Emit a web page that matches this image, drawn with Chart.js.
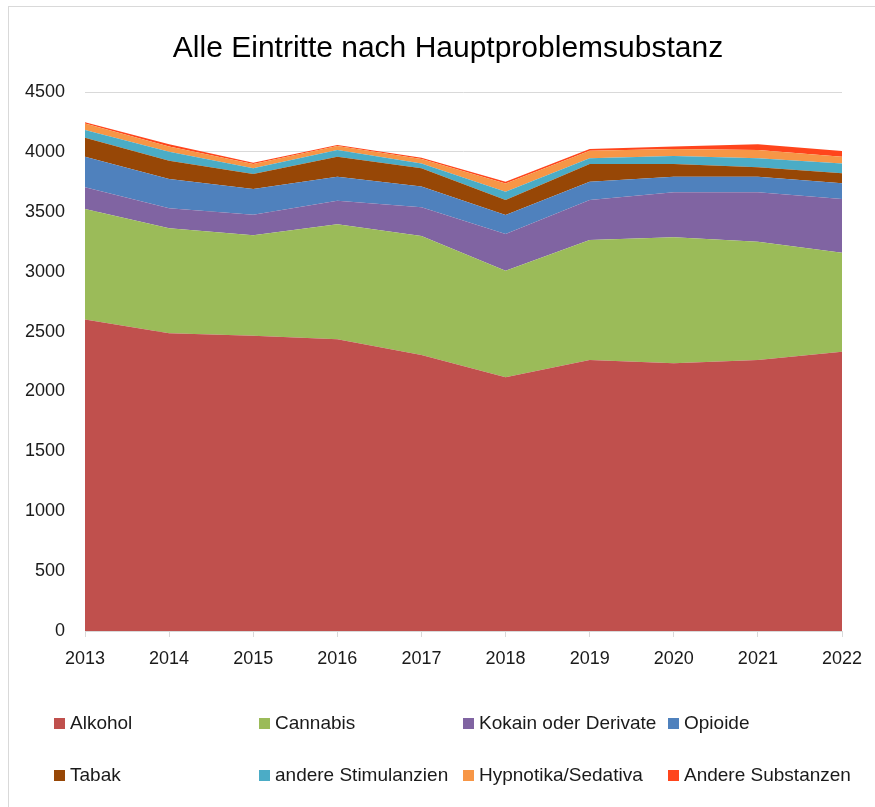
<!DOCTYPE html>
<html>
<head>
<meta charset="utf-8">
<script src="https://cdn.jsdelivr.net/npm/chart.js@4"></script>
<style>
    body { margin: 0; width: 875px; height: 807px; overflow: hidden; background: #fff; font-family: "Liberation Sans", Arial, sans-serif; }
    .frame { position: absolute; left: 8px; top: 6px; width: 900px; height: 900px; border: 1px solid #d9d9d9; }
    #chart { position: absolute; left: 0; top: 0; }
    .title { position: absolute; left: 0; width: 896px; top: 29px; text-align: center; font-size: 30px; line-height: 36px; color: #000; }
    .lg { position: absolute; font-size: 19px; color: #1a1a1a; white-space: nowrap; line-height: 22px; }
    .lg span { display: inline-block; width: 11px; height: 11px; margin-right: 5px; vertical-align: 0px; }
</style>
</head>
<body>
<div class="frame"></div>
<canvas id="chart" width="875" height="807"></canvas>
<div class="title">Alle Eintritte nach Hauptproblemsubstanz</div>
<div id="legend"></div>
<script>
    const years = ['2013', '2014', '2015', '2016', '2017', '2018', '2019', '2020', '2021', '2022'];
    const alkohol = [2600, 2485, 2466, 2435, 2304, 2119, 2262, 2235, 2262, 2332];
    const cannabis = [923, 877, 838, 960, 994, 889, 1002, 1052, 988, 826];
    const kokain = [181, 167, 172, 198, 239, 306, 334, 375, 412, 449];
    const opioide = [256, 245, 214, 200, 173, 159, 153, 131, 131, 131];
    const tabak = [158, 152, 125, 167, 153, 125, 148, 106, 78, 83];
    const stimulanzien = [65, 76, 48, 56, 41, 70, 47, 67, 75, 83];
    const hypnotika = [55, 42, 36, 33, 36, 69, 64, 58, 70, 56];
    const andere = [10, 19, 11, 8, 11, 14, 14, 20, 47, 48];

    const seriesNames = ['Alkohol', 'Cannabis', 'Kokain oder Derivate', 'Opioide', 'Tabak', 'andere Stimulanzien', 'Hypnotika/Sedativa', 'Andere Substanzen'];
    const seriesData = [alkohol, cannabis, kokain, opioide, tabak, stimulanzien, hypnotika, andere];
    const seriesColors = ['#C0504D', '#9BBB59', '#8064A2', '#4F81BD', '#974706', '#4BACC6', '#F79646', '#FF451C'];

    const ctx = document.getElementById('chart');
    new Chart(ctx, {
        type: 'line',
        data: {
            labels: years,
            datasets: seriesNames.map((name, i) => ({
                label: name,
                data: seriesData[i],
                backgroundColor: seriesColors[i],
                borderColor: seriesColors[i],
                borderWidth: 0,
                pointRadius: 0,
                tension: 0,
                fill: i === 0 ? 'origin' : '-1'
            }))
        },
        options: {
            responsive: false,
            animation: false,
            layout: { padding: { left: 0, right: 33, top: 92, bottom: 136 } },
            plugins: {
                legend: { display: false },
                tooltip: { enabled: false }
            },
            scales: {
                x: {
                    grid: { display: true, drawOnChartArea: false, color: '#d9d9d9', tickLength: 6 },
                    border: { color: '#d9d9d9' },
                    ticks: { color: '#1a1a1a', font: { family: 'Liberation Sans', size: 18 }, padding: 11, maxRotation: 0 },
                    afterFit(scale) { scale.height = 40; }
                },
                y: {
                    stacked: true,
                    min: 0,
                    max: 4500,
                    grid: { color: '#d9d9d9', drawTicks: false },
                    border: { display: false },
                    ticks: {
                        stepSize: 500,
                        color: '#1a1a1a',
                        font: { family: 'Liberation Sans', size: 18 },
                        padding: 20,
                        callback: (v) => String(v)
                    },
                    afterFit(scale) { scale.width = 85; }
                }
            }
        }
    });

    // legend in fixed columns like the original
    const cols = [54, 259, 463, 668];
    const rows = [723, 775];
    const legend = document.getElementById('legend');
    seriesNames.forEach((name, i) => {
        const d = document.createElement('div');
        d.className = 'lg';
        d.style.left = cols[i % 4] + 'px';
        d.style.top = (rows[Math.floor(i / 4)] - 11) + 'px';
        d.innerHTML = '<span style="background:' + seriesColors[i] + '"></span>' + name;
        legend.appendChild(d);
    });
</script>
</body>
</html>
